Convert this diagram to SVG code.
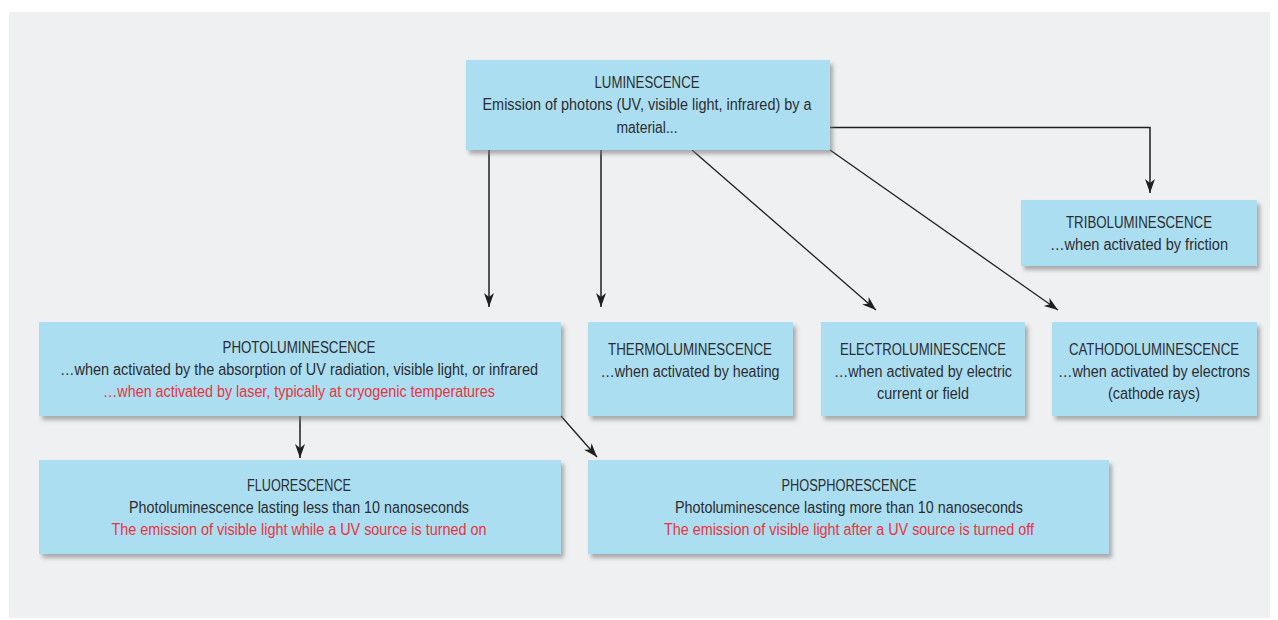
<svg xmlns="http://www.w3.org/2000/svg" width="1278" height="620" viewBox="0 0 1278 620">
<defs>
<style>
.box{fill:#abdef0;filter:url(#sh)}
text{font-family:"Liberation Sans",Arial,sans-serif;font-size:16px;text-anchor:middle;fill:#2b2d30}
.red{fill:#e8343f}
.con{fill:none;stroke:#1f1f1f;stroke-width:1.5;marker-end:url(#ah)}
.thin{stroke-width:1.3}
</style>
<filter id="sh" x="-10%" y="-20%" width="120%" height="150%">
<feDropShadow dx="3" dy="4" stdDeviation="2.2" flood-color="#7a7a7a" flood-opacity="0.6"/>
</filter>
<marker id="ah" viewBox="0 0 14 10" markerWidth="14" markerHeight="11" markerUnits="userSpaceOnUse" refX="14" refY="5" orient="auto">
<path d="M0,0 L14,5 L0,10 L4,5 Z" fill="#1f1f1f"/>
</marker>
</defs>
<rect x="9" y="12" width="1261" height="606" fill="#eff0f2"/>
<g id="connectors">
<path class="con" d="M489,150 V307"/>
<path class="con" d="M601,150 V307"/>
<path class="con thin" d="M692,150 L876,310"/>
<path class="con thin" d="M830,150 L1058,310"/>
<path class="con" d="M830,127.5 H1150 V193"/>
<path class="con" d="M300,416 V458"/>
<path class="con thin" d="M561,416 L597,457"/>
</g>
<g id="luminescence">
<rect class="box" x="466" y="60" width="364" height="90"/>
<text x="647" y="88" textLength="105" lengthAdjust="spacingAndGlyphs">LUMINESCENCE</text>
<text x="647" y="110" textLength="329" lengthAdjust="spacingAndGlyphs">Emission of photons (UV, visible light, infrared) by a</text>
<text x="647" y="133" textLength="61" lengthAdjust="spacingAndGlyphs">material...</text>
</g>
<g id="triboluminescence">
<rect class="box" x="1021" y="200" width="236" height="66"/>
<text x="1139" y="228" textLength="146" lengthAdjust="spacingAndGlyphs">TRIBOLUMINESCENCE</text>
<text x="1139" y="250" textLength="178" lengthAdjust="spacingAndGlyphs">…when activated by friction</text>
</g>
<g id="photoluminescence">
<rect class="box" x="39" y="322" width="522" height="94"/>
<text x="299" y="353" textLength="153" lengthAdjust="spacingAndGlyphs">PHOTOLUMINESCENCE</text>
<text x="299" y="375" textLength="478" lengthAdjust="spacingAndGlyphs">…when activated by the absorption of UV radiation, visible light, or infrared</text>
<text class="red" x="299" y="397" textLength="392" lengthAdjust="spacingAndGlyphs">…when activated by laser, typically at cryogenic temperatures</text>
</g>
<g id="thermoluminescence">
<rect class="box" x="588" y="322" width="205" height="94"/>
<text x="690" y="355" textLength="164" lengthAdjust="spacingAndGlyphs">THERMOLUMINESCENCE</text>
<text x="690" y="377" textLength="179" lengthAdjust="spacingAndGlyphs">…when activated by heating</text>
</g>
<g id="electroluminescence">
<rect class="box" x="821" y="322" width="204" height="94"/>
<text x="923" y="355" textLength="166" lengthAdjust="spacingAndGlyphs">ELECTROLUMINESCENCE</text>
<text x="923" y="377" textLength="178" lengthAdjust="spacingAndGlyphs">…when activated by electric</text>
<text x="923" y="399" textLength="92" lengthAdjust="spacingAndGlyphs">current or field</text>
</g>
<g id="cathodoluminescence">
<rect class="box" x="1052" y="322" width="205" height="94"/>
<text x="1154" y="355" textLength="170" lengthAdjust="spacingAndGlyphs">CATHODOLUMINESCENCE</text>
<text x="1154" y="377" textLength="192" lengthAdjust="spacingAndGlyphs">…when activated by electrons</text>
<text x="1154" y="399" textLength="92" lengthAdjust="spacingAndGlyphs">(cathode rays)</text>
</g>
<g id="fluorescence">
<rect class="box" x="39" y="460" width="522" height="94"/>
<text x="299" y="491" textLength="104" lengthAdjust="spacingAndGlyphs">FLUORESCENCE</text>
<text x="299" y="513" textLength="340" lengthAdjust="spacingAndGlyphs">Photoluminescence lasting less than 10 nanoseconds</text>
<text class="red" x="299" y="535" textLength="375" lengthAdjust="spacingAndGlyphs">The emission of visible light while a UV source is turned on</text>
</g>
<g id="phosphorescence">
<rect class="box" x="588" y="460" width="521" height="94"/>
<text x="849" y="491" textLength="135" lengthAdjust="spacingAndGlyphs">PHOSPHORESCENCE</text>
<text x="849" y="513" textLength="348" lengthAdjust="spacingAndGlyphs">Photoluminescence lasting more than 10 nanoseconds</text>
<text class="red" x="849" y="535" textLength="370" lengthAdjust="spacingAndGlyphs">The emission of visible light after a UV source is turned off</text>
</g>
</svg>
